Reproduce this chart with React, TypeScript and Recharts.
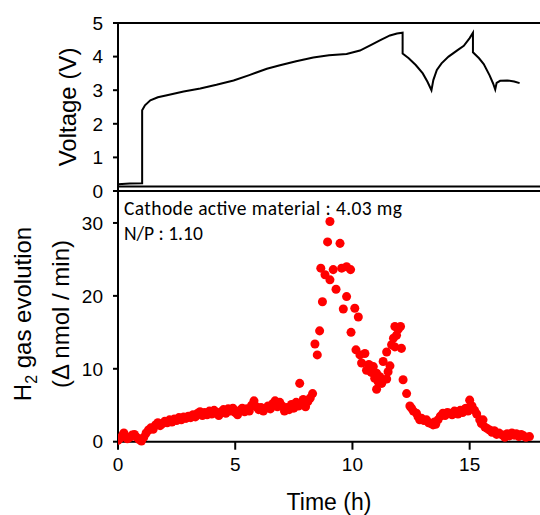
import { LineChart, Line, ScatterChart, Scatter, XAxis, YAxis, ZAxis, ReferenceLine } from 'recharts';

const FONT = '"Liberation Sans", Arial, sans-serif';
const NOTE_FONT = 'Carlito, Calibri, Lato, sans-serif';

const TIME_TICKS = [0, 5, 10, 15];
const VOLT_TICKS = [0, 1, 2, 3, 4, 5];
const H2_TICKS = [0, 10, 20, 30];

// voltage profile (h, V)
const VOLT_TIME = [
  0, 0.5, 1.03, 1.03, 1.15, 1.38, 1.7, 2.09, 2.8, 3.51, 4.2, 4.93, 5.6, 6.35, 6.91, 7.6, 8.33, 9.0, 9.75,
  10.32, 10.8, 11.17, 11.6, 11.9, 12.14, 12.14, 12.4, 12.7, 13.0, 13.2, 13.37, 13.45, 13.6, 13.8, 14.1,
  14.5, 14.75, 15.0, 15.14, 15.14, 15.4, 15.6, 15.85, 16.0, 16.09, 16.15, 16.3, 16.6, 16.9, 17.13,
];
const VOLT_VALUE = [
  0.2, 0.22, 0.23, 2.4, 2.55, 2.7, 2.79, 2.85, 2.96, 3.05, 3.16, 3.29, 3.45, 3.64, 3.74, 3.86, 3.97, 4.04, 4.08,
  4.18, 4.35, 4.48, 4.63, 4.69, 4.71, 4.09, 3.95, 3.75, 3.5, 3.25, 3.0, 3.3, 3.6, 3.8, 4.0,
  4.2, 4.32, 4.55, 4.71, 4.13, 3.95, 3.78, 3.44, 3.2, 3.02, 3.22, 3.28, 3.29, 3.26, 3.21,
];

// H2 evolution rate (h, nmol/min)
const H2_POINTS: [number, number][] = [
  [0.0, 0.2], [0.1, 0.5], [0.2, 0.9], [0.25, 1.2], [0.3, 0.7], [0.4, 0.4], [0.5, 0.6], [0.6, 0.9], [0.7, 1.0],
  [0.8, 0.6], [0.9, 0.3], [1.0, 0.1], [1.1, 0.6], [1.2, 1.2], [1.3, 1.6], [1.4, 1.9], [1.5, 1.7], [1.6, 2.3],
  [1.7, 2.6], [1.8, 2.2], [1.9, 2.5], [2.0, 2.8], [2.1, 2.6], [2.2, 3.0], [2.3, 2.7], [2.4, 3.1], [2.5, 2.9],
  [2.6, 3.3], [2.7, 3.0], [2.8, 3.4], [2.9, 3.2], [3.0, 3.5], [3.1, 3.3], [3.2, 3.7], [3.3, 3.4], [3.4, 3.9],
  [3.5, 4.1], [3.6, 3.6], [3.7, 4.0], [3.8, 3.7], [3.9, 4.2], [4.0, 3.8], [4.1, 4.3], [4.2, 4.0], [4.3, 3.6],
  [4.4, 4.1], [4.5, 4.4], [4.6, 3.9], [4.7, 4.5], [4.8, 4.2], [4.9, 4.6], [5.0, 4.0], [5.1, 3.7], [5.2, 4.3],
  [5.3, 4.6], [5.4, 4.1], [5.5, 4.5], [5.6, 4.2], [5.7, 5.0], [5.8, 5.6], [5.9, 4.8], [6.0, 4.4], [6.1, 4.7],
  [6.2, 4.2], [6.3, 4.6], [6.4, 4.9], [6.5, 4.5], [6.6, 5.2], [6.7, 5.6], [6.8, 4.8], [6.9, 5.4], [7.0, 4.9],
  [7.1, 4.2], [7.2, 4.7], [7.3, 4.4], [7.4, 5.1], [7.5, 4.6], [7.6, 5.4], [7.7, 4.9], [7.75, 8.0], [7.8, 5.2],
  [7.9, 5.8], [8.0, 4.8], [8.1, 5.5], [8.2, 6.0], [8.3, 6.6], [8.4, 13.4], [8.5, 11.9], [8.6, 15.2],
  [8.65, 23.8], [8.72, 19.2], [8.83, 22.9], [8.94, 27.4], [9.04, 30.2], [9.04, 22.2], [9.18, 23.6],
  [9.3, 20.9], [9.47, 27.2], [9.54, 23.8], [9.61, 18.2], [9.75, 24.0], [9.75, 19.9], [9.92, 23.6],
  [9.94, 15.0], [10.1, 18.3], [10.15, 12.6], [10.25, 17.1], [10.32, 11.9], [10.39, 10.8], [10.53, 12.1],
  [10.6, 9.8], [10.7, 10.6], [10.8, 9.5], [10.89, 10.3], [10.95, 8.7], [11.03, 9.4], [11.03, 7.2],
  [11.1, 8.2], [11.17, 8.9], [11.25, 8.0], [11.31, 11.0], [11.46, 8.6], [11.46, 12.3], [11.52, 9.6],
  [11.6, 10.4], [11.67, 13.3], [11.75, 14.2], [11.81, 15.8], [11.81, 13.0], [11.88, 14.6], [11.95, 15.4],
  [12.05, 15.8], [12.09, 12.8], [12.16, 8.5], [12.31, 6.6], [12.45, 4.9], [12.52, 4.6], [12.6, 4.2],
  [12.73, 3.9], [12.8, 3.4], [12.87, 3.0], [12.95, 3.2], [13.05, 2.9], [13.16, 3.0], [13.25, 2.6],
  [13.35, 2.5], [13.44, 2.3], [13.5, 2.7], [13.55, 2.4], [13.65, 3.0], [13.75, 3.5], [13.86, 3.9],
  [13.95, 3.6], [14.05, 4.0], [14.15, 3.9], [14.25, 3.7], [14.35, 4.2], [14.43, 4.1], [14.5, 3.8],
  [14.6, 4.3], [14.7, 4.0], [14.8, 4.5], [14.86, 4.6], [14.93, 4.2], [15.0, 5.7], [15.1, 4.9], [15.21, 4.3],
  [15.3, 3.8], [15.43, 3.0], [15.5, 2.5], [15.57, 3.0], [15.65, 2.0], [15.75, 1.8], [15.85, 1.6],
  [15.95, 1.3], [16.05, 1.5], [16.15, 1.0], [16.25, 1.2], [16.4, 0.9], [16.5, 0.6], [16.6, 1.1], [16.7, 0.8],
  [16.8, 1.2], [16.9, 0.9], [16.99, 1.1], [17.1, 0.7], [17.2, 1.0], [17.3, 0.8], [17.4, 0.6], [17.55, 0.7],
];

const voltageData = VOLT_TIME.map((t, i) => ({ t, v: VOLT_VALUE[i] }));
const h2Data = H2_POINTS.map(([t, v]) => ({ t, v }));

const axisLine = { stroke: '#000', strokeWidth: 2 };
const tickStyle = { fontSize: 19, fill: '#000', fontFamily: FONT };

export default function App() {
  return (
    <div style={{ position: 'absolute', left: 0, top: 0, width: 540, height: 515, background: '#fff', overflow: 'hidden' }}>
      {/* H2 evolution panel */}
      <div style={{ position: 'absolute', left: 0, top: 180 }}>
        <ScatterChart width={540} height={335} margin={{ top: 6.5, right: 0, bottom: 43.3, left: 0 }}>
          <XAxis dataKey="t" type="number" domain={[0, 18]} ticks={TIME_TICKS} height={30} tick={tickStyle}
            tickSize={8} tickMargin={8} axisLine={axisLine} tickLine={axisLine} allowDataOverflow />
          <YAxis dataKey="v" type="number" domain={[0, 35]} ticks={H2_TICKS} width={118} tick={tickStyle}
            tickSize={5} tickMargin={10} axisLine={axisLine} tickLine={axisLine} interval={0} />
          <ZAxis range={[68, 68]} />
          <ReferenceLine y={35} stroke="#000" strokeWidth={2} />
          <Scatter data={h2Data} fill="#ff0000" isAnimationActive={false} />
        </ScatterChart>
      </div>

      {/* voltage panel */}
      <div style={{ position: 'absolute', left: 0, top: 0 }}>
        <LineChart width={540} height={215} data={voltageData} margin={{ top: 23, right: 0, bottom: 23, left: 0 }}>
          <XAxis dataKey="t" type="number" domain={[0, 18]} ticks={TIME_TICKS} tick={false} tickLine={false}
            height={1} axisLine={axisLine} allowDataOverflow />
          <YAxis type="number" domain={[0, 5]} ticks={VOLT_TICKS} width={118} tick={tickStyle}
            tickSize={5} tickMargin={10} axisLine={axisLine} tickLine={axisLine} interval={0} />
          <ReferenceLine y={5} stroke="#000" strokeWidth={2} />
          <Line type="linear" dataKey="v" stroke="#000" strokeWidth={2} dot={false} isAnimationActive={false} />
        </LineChart>
      </div>

      {/* axis titles and notes */}
      <svg width={540} height={515} style={{ position: 'absolute', left: 0, top: 0, pointerEvents: 'none' }}>
        <text transform="translate(76,107) rotate(-90)" textAnchor="middle" fontFamily={FONT} fontSize={24} fill="#000">
          Voltage (V)
        </text>
        <text transform="translate(31,314) rotate(-90)" textAnchor="middle" fontFamily={FONT} fontSize={24} fill="#000">
          H<tspan fontSize={16} dy={6}>2</tspan><tspan dy={-6}> gas evolution</tspan>
        </text>
        <text transform="translate(69,314) rotate(-90)" textAnchor="middle" fontFamily={FONT} fontSize={24} fill="#000">
          (Δ nmol / min)
        </text>
        <text x={329} y={510} textAnchor="middle" fontFamily={FONT} fontSize={23} fill="#000">
          Time (h)
        </text>
        <text x={124} y={215} fontFamily={NOTE_FONT} fontSize={19.5} fill="#000" textLength={278} lengthAdjust="spacing">
          Cathode active material : 4.03 mg
        </text>
        <text x={124} y={240} fontFamily={NOTE_FONT} fontSize={19.5} fill="#000">
          N/P : 1.10
        </text>
      </svg>
    </div>
  );
}
